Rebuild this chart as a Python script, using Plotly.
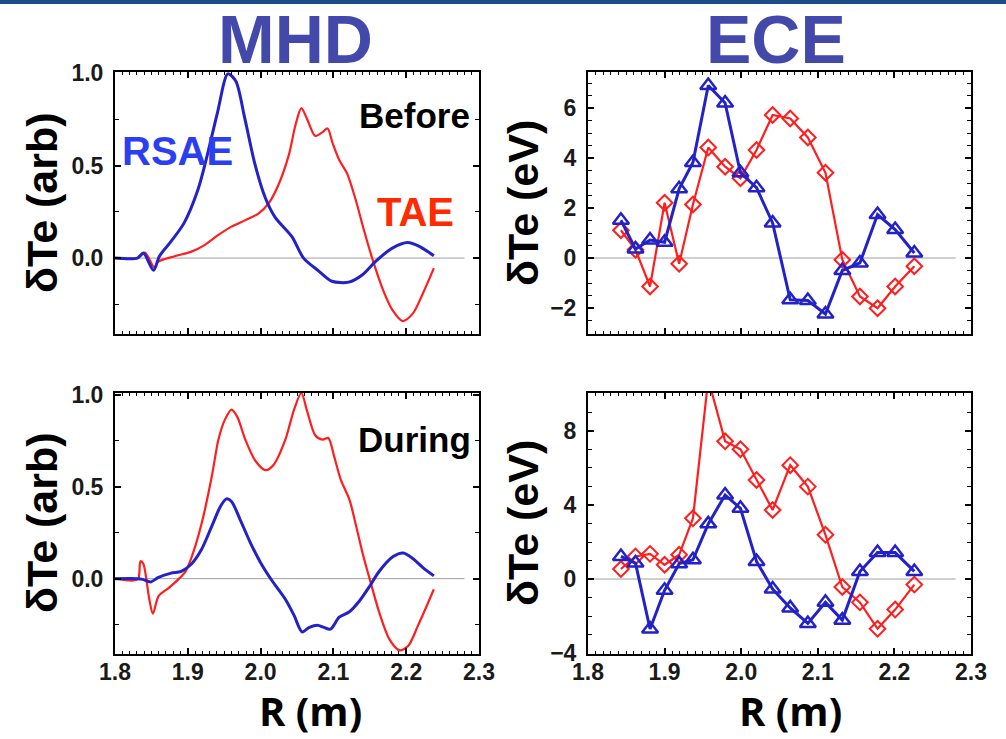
import plotly.graph_objects as go

# ---------------- data ----------------
# MHD "Before" (top-left)
mhd_before_rsae_R = [1.800, 1.831, 1.839, 1.853, 1.861, 1.877, 1.895, 1.914, 1.927, 1.941, 1.955, 1.966,
                     1.978, 1.992, 2.006, 2.020, 2.043, 2.059, 2.080, 2.098, 2.121, 2.140, 2.158, 2.181,
                     2.202, 2.218, 2.238]
mhd_before_rsae = [0.0, 0.0, 0.027, -0.066, 0.01, 0.09, 0.19, 0.37, 0.56, 0.79, 0.995, 0.955,
                   0.76, 0.51, 0.33, 0.22, 0.116, 0.0, -0.07, -0.125, -0.13, -0.09, -0.018, 0.054,
                   0.084, 0.063, 0.0125]
mhd_before_tae_R = [1.800, 1.831, 1.841, 1.854, 1.859, 1.882, 1.905, 1.923, 1.942, 1.960, 1.979, 1.997,
                    2.011, 2.025, 2.039, 2.048, 2.056, 2.064, 2.075, 2.085, 2.092, 2.099, 2.108, 2.119,
                    2.131, 2.142, 2.154, 2.168, 2.181, 2.195, 2.209, 2.223, 2.238]
mhd_before_tae = [0.0, 0.0, 0.03, -0.05, -0.02, 0.01, 0.035, 0.07, 0.125, 0.17, 0.205, 0.24,
                  0.295, 0.40, 0.56, 0.72, 0.81, 0.75, 0.66, 0.68, 0.70, 0.62, 0.53, 0.455,
                  0.31, 0.15, -0.01, -0.17, -0.28, -0.34, -0.30, -0.19, -0.054]

# MHD "During" (bottom-left)
mhd_during_rsae_R = [1.800, 1.831, 1.838, 1.849, 1.859, 1.877, 1.891, 1.905, 1.919, 1.933, 1.945, 1.953,
                     1.960, 1.972, 1.986, 2.000, 2.016, 2.034, 2.046, 2.057, 2.067, 2.078, 2.087, 2.096,
                     2.108, 2.122, 2.136, 2.150, 2.163, 2.182, 2.196, 2.209, 2.223, 2.238]
mhd_during_rsae = [0.0, 0.0, -0.004, -0.018, 0.005, 0.03, 0.04, 0.08, 0.16, 0.286, 0.394, 0.434,
                   0.42, 0.32, 0.195, 0.087, -0.013, -0.112, -0.2, -0.29, -0.265, -0.253, -0.265, -0.275,
                   -0.21, -0.18, -0.12, -0.04, 0.04, 0.12, 0.14, 0.11, 0.06, 0.015]
mhd_during_tae_R = [1.800, 1.825, 1.832, 1.835, 1.839, 1.847, 1.852, 1.860, 1.874, 1.888, 1.897, 1.905,
                    1.919, 1.933, 1.942, 1.951, 1.960, 1.968, 1.979, 1.993, 2.007, 2.018, 2.034, 2.046,
                    2.056, 2.064, 2.075, 2.085, 2.093, 2.101, 2.110, 2.122, 2.131, 2.140, 2.150, 2.163,
                    2.177, 2.191, 2.203, 2.216, 2.228, 2.238]
mhd_during_tae = [0.0, -0.01, 0.0, 0.095, 0.08, -0.11, -0.19, -0.094, -0.05, 0.0, 0.04, 0.114,
                  0.30, 0.557, 0.756, 0.865, 0.92, 0.88, 0.756, 0.64, 0.59, 0.62, 0.756, 0.92,
                  1.01, 0.91, 0.78, 0.756, 0.765, 0.665, 0.54, 0.43, 0.29, 0.14, -0.004, -0.184,
                  -0.33, -0.39, -0.365, -0.257, -0.15, -0.058]

# ECE channels (shared radii)
ece_R = [1.843, 1.862, 1.881, 1.900, 1.919, 1.937, 1.957, 1.979, 1.999, 2.020,
         2.041, 2.064, 2.087, 2.110, 2.132, 2.155, 2.178, 2.201, 2.226]
ece_before_tae = [1.11, 0.33, -1.14, 2.21, -0.23, 2.14, 4.42, 3.65, 3.19, 4.32,
                  5.72, 5.58, 4.82, 3.41, -0.07, -1.54, -2.01, -1.14, -0.33]
ece_before_rsae = [1.51, 0.36, 0.72, 0.63, 2.77, 3.82, 6.9, 6.2, 3.41, 2.81,
                   1.4, -1.67, -1.7, -2.24, -0.5, -0.2, 1.74, 1.14, 0.2]
ece_during_tae = [0.54, 1.22, 1.36, 0.77, 1.31, 3.28, 10.8, 7.44, 7.01, 5.35,
                  3.73, 6.15, 4.99, 2.39, -0.43, -1.26, -2.69, -1.65, -0.3]
ece_during_rsae = [1.22, 0.86, -2.7, -0.61, 0.83, 1.04, 2.98, 4.54, 3.82, 0.95,
                   -0.54, -1.56, -2.4, -1.26, -2.22, 0.41, 1.43, 1.43, 0.41]

# tick settings: (first tick, step, format)
x_tick = (1.8, 0.1, ".1f")
mhd_ytick = (0.0, 0.5, ".1f")
ece_before_ytick = (0, 2, "d")
ece_during_ytick = (0, 4, "d")

# ---------------- style ----------------
W, H = 1006, 739
BLUE = "#2222c8"
RED = "#ff1e1e"
TITLE_BLUE = "#4349ab"
FONT = "Liberation Sans"


def px(x):
    return x / W


def py(y):
    return 1 - y / H


fig = go.Figure()

dom = {
    1: ((115, 479), (72, 334)),
    2: ((588, 971), (72, 334)),
    3: ((115, 479), (393, 654)),
    4: ((588, 971), (393, 654)),
}
yranges = {1: [-0.41, 1.005], 2: [-3.04, 7.44], 3: [-0.41, 1.01], 4: [-4.05, 10.05]}
yt = {1: mhd_ytick, 2: ece_before_ytick, 3: mhd_ytick, 4: ece_during_ytick}
yminor = {1: 0.25, 2: 0.5, 3: 0.25, 4: 1}

tickfont = dict(family=FONT, size=23, color="#1a1a1a", weight="bold")

for i in range(1, 5):
    (x0, x1), (y0, y1) = dom[i]
    xa = "xaxis" if i == 1 else f"xaxis{i}"
    ya = "yaxis" if i == 1 else f"yaxis{i}"
    fig.update_layout({
        xa: dict(domain=[px(x0), px(x1)], anchor="y" if i == 1 else f"y{i}",
                 range=[1.8, 2.3], tickmode="linear", tick0=x_tick[0], dtick=x_tick[1],
                 tickformat=x_tick[2],
                 showticklabels=(i >= 3), ticks="inside", ticklen=6, tickwidth=1.5,
                 tickcolor="black", showline=True, linecolor="black", linewidth=2,
                 mirror="allticks", showgrid=False, zeroline=False, tickfont=tickfont,
                 ticklabelstandoff=-4, automargin=False,
                 minor=dict(dtick=0.01, ticks="inside", ticklen=3, tickcolor="black",
                            tickwidth=1, showgrid=False)),
        ya: dict(domain=[py(y1), py(y0)], anchor="x" if i == 1 else f"x{i}",
                 range=yranges[i], tickmode="linear", tick0=yt[i][0], dtick=yt[i][1],
                 tickformat=yt[i][2],
                 ticks="inside", ticklen=6, tickwidth=1.5, tickcolor="black",
                 showline=True, linecolor="black", linewidth=2, mirror="allticks",
                 showgrid=False, zeroline=False, tickfont=tickfont, ticklabelstandoff=5,
                 automargin=False,
                 minor=dict(dtick=yminor[i], ticks="inside", ticklen=4, tickcolor="black",
                            tickwidth=1, showgrid=False)),
    })

# zero reference lines
for i in range(1, 5):
    xr = "x" if i == 1 else f"x{i}"
    yr = "y" if i == 1 else f"y{i}"
    fig.add_shape(type="line", xref=xr, yref=yr, x0=1.8, x1=2.28, y0=0, y1=0,
                  line=dict(color="#a0a0a0", width=1), layer="below")

# MHD curves
fig.add_trace(go.Scatter(x=mhd_before_tae_R, y=mhd_before_tae, mode="lines",
                         line=dict(color=RED, width=2.2, shape="spline", smoothing=0.8),
                         xaxis="x", yaxis="y", showlegend=False))
fig.add_trace(go.Scatter(x=mhd_before_rsae_R, y=mhd_before_rsae, mode="lines",
                         line=dict(color=BLUE, width=3, shape="spline", smoothing=0.8),
                         xaxis="x", yaxis="y", showlegend=False))
fig.add_trace(go.Scatter(x=mhd_during_tae_R, y=mhd_during_tae, mode="lines",
                         line=dict(color=RED, width=2.2, shape="spline", smoothing=0.8),
                         xaxis="x3", yaxis="y3", showlegend=False))
fig.add_trace(go.Scatter(x=mhd_during_rsae_R, y=mhd_during_rsae, mode="lines",
                         line=dict(color=BLUE, width=3, shape="spline", smoothing=0.8),
                         xaxis="x3", yaxis="y3", showlegend=False))

# ECE data
for xa_, ya_, tae, rsae in [("x2", "y2", ece_before_tae, ece_before_rsae),
                            ("x4", "y4", ece_during_tae, ece_during_rsae)]:
    fig.add_trace(go.Scatter(x=ece_R, y=tae, mode="lines+markers",
                             line=dict(color=RED, width=2.2),
                             marker=dict(symbol="diamond-open", size=12, color=RED,
                                         line=dict(width=2, color=RED)),
                             xaxis=xa_, yaxis=ya_, showlegend=False))
    fig.add_trace(go.Scatter(x=ece_R, y=rsae, mode="lines+markers",
                             line=dict(color=BLUE, width=3),
                             marker=dict(symbol="triangle-up-open", size=14, color=BLUE,
                                         line=dict(width=2.5, color=BLUE)),
                             xaxis=xa_, yaxis=ya_, showlegend=False))

# top band
fig.add_shape(type="rect", xref="paper", yref="paper", x0=0, x1=1, y0=py(4), y1=1,
              fillcolor="#1a4c85", line=dict(width=0), layer="above")

ann = []


def add_text(text, x, y, size, color="black", family=FONT, weight="bold", angle=0,
             xanchor="center", yanchor="middle"):
    ann.append(dict(text=text, x=px(x), y=py(y), xref="paper", yref="paper",
                    showarrow=False, textangle=angle, xanchor=xanchor, yanchor=yanchor,
                    borderpad=0,
                    font=dict(family=family, size=size, color=color, weight=weight)))


add_text("MHD", 295, 0, 68, TITLE_BLUE, yanchor="top")
add_text("ECE", 776, 0, 68, TITLE_BLUE, yanchor="top")
add_text("δTe (arb)", 42, 203, 43, angle=-90)
add_text("δTe (eV)", 523, 203, 43, angle=-90)
add_text("δTe (arb)", 42, 523, 43, angle=-90)
add_text("δTe (eV)", 523, 523, 43, angle=-90)
add_text("R (m)", 310, 739, 40, family="Open Sans", yanchor="bottom")
add_text("R (m)", 790, 739, 40, family="Open Sans", yanchor="bottom")
add_text("Before", 471, 116, 35, xanchor="right")
add_text("During", 472, 440, 35, xanchor="right")
add_text("RSAE", 177, 151, 40, "#2b3ff0")
add_text("TAE", 415, 212, 40, "#ff2a00")

fig.update_layout(width=W, height=H,
                  margin=dict(l=0, r=0, t=0, b=0, pad=0, autoexpand=False),
                  paper_bgcolor="white", plot_bgcolor="white", annotations=ann)

fig.write_html("out.html")
